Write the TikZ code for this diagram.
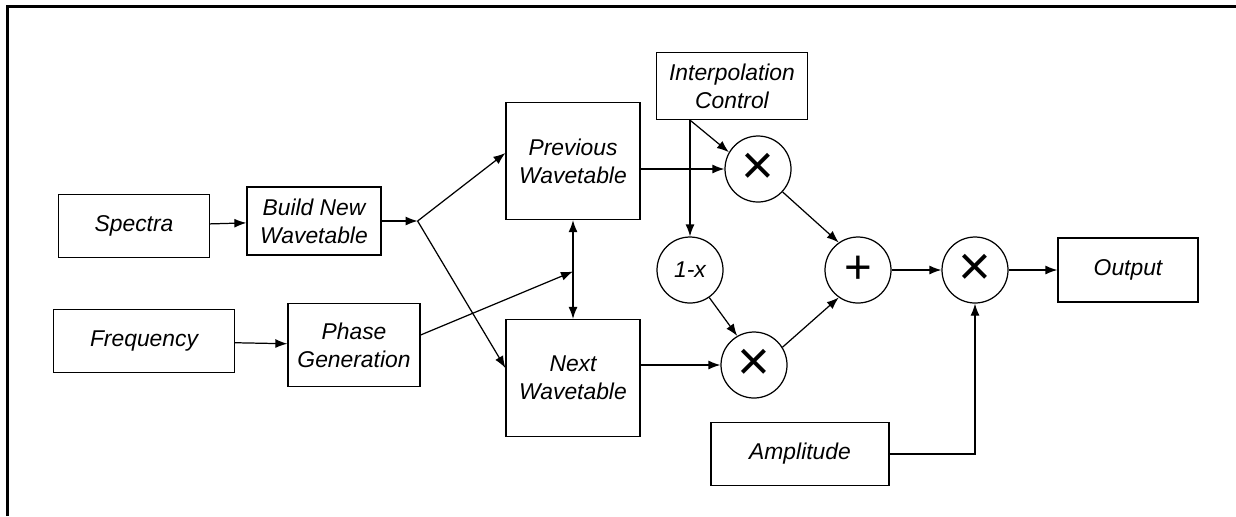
\documentclass[tikz,border=0pt]{standalone}
\usepackage{fontspec}
\setsansfont{Liberation Sans}
\usetikzlibrary{arrows.meta,calc}

\begin{document}
\begin{tikzpicture}[->,>={Latex[length=2.4mm,width=1.8mm]},line width=0.7pt,
  node distance=3cm,
  block/.style={rectangle,draw,font=\sffamily\itshape\fontsize{13}{16}\selectfont,align=center,inner sep=2pt},
  op node/.style={circle,draw,minimum size=1.32cm,inner sep=0pt,font=\sffamily\fontsize{32}{32}\selectfont}]

  \useasboundingbox (-2.68,-5.8) rectangle (22.04,4.52);
  \draw[-,line width=1.5pt] (-2.53,-5.8) -- (-2.53,4.39) -- (22.04,4.39);

  \node[block, minimum width=3.02cm, minimum height=1.26cm] (spectra) {Spectra};
  \node[block, minimum width=2.68cm, minimum height=1.36cm] (build) [right of=spectra, node distance=3.6cm, yshift=0.1cm] {Build New\\Wavetable};

  \node[block, minimum width=3.62cm, minimum height=1.26cm] (freq) [below of=spectra, node distance=2.3cm, xshift=0.2cm] {Frequency};
  \node[block, minimum width=2.64cm, minimum height=1.66cm] (phase) [right of=freq, node distance=4.2cm, yshift=-0.08cm] {Phase\\Generation};

  \node[block, minimum width=2.68cm, minimum height=2.34cm] (prev) [right of=build, node distance=5.18cm, yshift=1.2cm] {Previous\\Wavetable};
  \node[block, minimum width=2.68cm, minimum height=2.34cm] (next) [below of=prev, node distance=4.34cm] {Next\\Wavetable};

  \node[block, minimum width=3.02cm, minimum height=1.34cm] (interp) [right of=prev, node distance=3.18cm, yshift=1.5cm] {Interpolation\\Control};
  \node[op node] (mula) [right of=prev, node distance=3.7cm, yshift=-0.16cm] {×};
  \node[op node, font=\sffamily\itshape\fontsize{13}{16}\selectfont] (inv) [below of=interp, node distance=3.68cm, xshift=-0.84cm] {1-x};
  \node[op node] (mulb) [right of=next, node distance=3.62cm, yshift=0.26cm] {×};

  \node[op node, font=\sffamily\fontsize{27}{27}\selectfont] (sum) [right of=inv, node distance=3.36cm] {\raisebox{-0.15cm}{+}};
  \node[op node] (mulc) [right of=sum, node distance=2.34cm] {×};
  \node[block, minimum width=2.8cm, minimum height=1.28cm] (out) [right of=mulc, node distance=3.06cm] {Output};
  \node[block, minimum width=3.56cm, minimum height=1.26cm] (amp) [below of=mulc, node distance=3.68cm, xshift=-3.5cm] {Amplitude};

  \coordinate (split) at ($(build.east)+(0.72,0)$);
  \coordinate (tap) at ($(prev.south)!0.52!(next.north)$);

  \path
    (spectra) edge (build)
    (build) edge (split)
    (split) edge ([yshift=0.16cm]prev.west)
            edge ([yshift=0.2cm]next.west)
    (freq) edge (phase)
    ([yshift=0.2cm]phase.east) edge (tap)
    (prev.south) edge [<->] (next.north)
    (mula.west -| prev.east) edge (mula.west)
    (mulb.west -| next.east) edge (mulb.west)
    (interp.south -| inv) edge (inv)
                          edge (mula.150)
    (inv.-55) edge (mulb.120)
    (mula.-43) edge (sum.125)
    (mulb.32) edge (sum.-125)
    (sum) edge (mulc)
    (mulc) edge (out);

  \draw (amp.east) -| (mulc.south);

\end{tikzpicture}
\end{document}
